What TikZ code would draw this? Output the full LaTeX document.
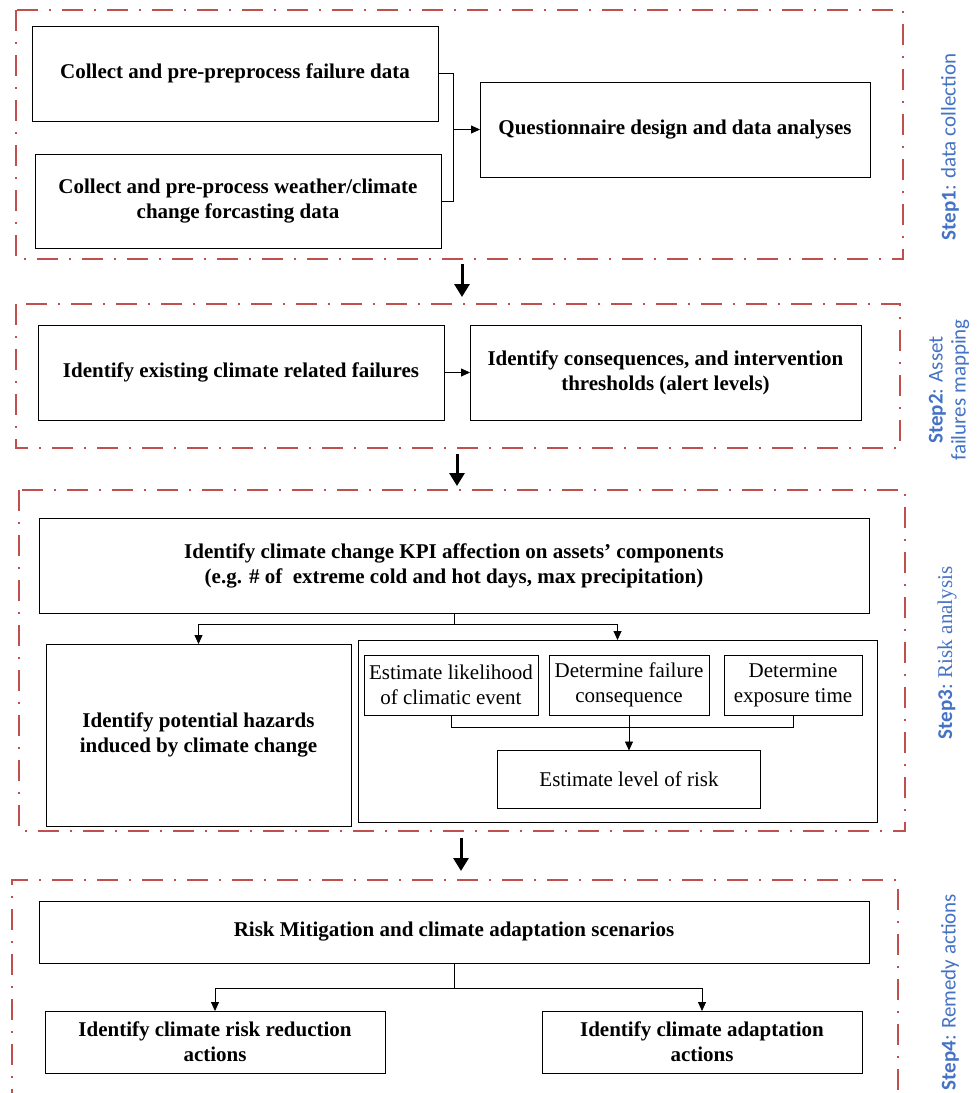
\documentclass[tikz,border=0pt]{standalone}
\usepackage{fontspec}
\setmainfont{Liberation Serif}
\newfontfamily\calibri{Carlito}
\usetikzlibrary{arrows.meta}
\definecolor{stepred}{RGB}{192,80,77}
\definecolor{stepblue}{RGB}{68,114,196}
\newcommand{\stp}[2]{{\bfseries #1}: #2}

\begin{document}
\begin{tikzpicture}[x=1pt,y=-1pt]

%
% Styles
%
\tikzstyle{box} = [rectangle,draw=black,line width=0.9pt,inner sep=0pt,outer sep=0pt,align=center,font=\fontsize{21}{25}\selectfont]
\tikzstyle{boldbox} = [box,font=\fontsize{21}{25}\selectfont\bfseries]
\tikzstyle{frame} = [draw=stepred,line width=2.6pt,dash pattern=on 21pt off 11pt on 2pt off 11pt]
\tikzstyle{link} = [line width=0.8pt]
\tikzstyle{arr} = [link,-{Triangle[length=9pt,width=8pt]}]
\tikzstyle{bigarr} = [line width=3pt,-{Triangle[length=13pt,width=15pt]}]
\tikzstyle{steptext} = [rotate=90,text=stepblue,align=center,font=\calibri\fontsize{21}{23}\selectfont]

\useasboundingbox (0,0) rectangle (978,1093);
\clip (0,0) rectangle (978,1093);

% step frames
\draw[frame] (16,10) rectangle (903,259);
\draw[frame] (16,304) rectangle (900,448);
\draw[frame] (19,490) rectangle (905,831);
\draw[frame] (12,1110) -- (12,880) -- (898,880) -- (898,1110);

% step 1
\node[boldbox,minimum width=406pt,minimum height=95pt] (A) at (235,73.5) {Collect and pre-preprocess failure data};
\node[boldbox,minimum width=406pt,minimum height=94pt] (B) at (238,201) {Collect and pre-process weather/climate\\change forcasting data};
\node[boldbox,minimum width=390pt,minimum height=95pt] (C) at (675,129.5) {Questionnaire design and data analyses};

\coordinate (j1) at (453,129.5);
\draw[link] (A.east) -| (j1);
\draw[link] (B.east) -| (j1);
\draw[arr] (j1) -- (C.west);

% step 2
\node[boldbox,minimum width=406pt,minimum height=95pt] (D) at (241,372.5) {Identify existing climate related failures};
\node[boldbox,minimum width=391pt,minimum height=95pt] (E) at (665.5,372.5) {Identify consequences, and intervention\\thresholds (alert levels)};

\draw[arr] (D) -- (E);

% step 3
\node[boldbox,minimum width=830pt,minimum height=95pt] (F) at (454,565.5) {Identify climate change KPI affection on assets’ components\\(e.g. \# of~ extreme cold and hot days, max precipitation)};
\node[boldbox,minimum width=305pt,minimum height=182pt] (G) at (198.5,735) {Identify potential hazards\\induced by climate change};
\node[box,minimum width=519pt,minimum height=182pt] (H) at (617.5,731) {};
\node[box,minimum width=174pt,minimum height=60pt] (I) at (451,685) {Estimate likelihood\\of climatic event};
\node[box,minimum width=160pt,minimum height=60pt] (J) at (629,685) {Determine failure\\consequence};
\node[box,minimum width=138pt,minimum height=60pt] (K) at (793,685) {Determine\\exposure time};
\node[box,minimum width=263pt,minimum height=58pt] (L) at (629,779.5) {Estimate level of risk};

\coordinate (j3) at (454,624);
\draw[link] (F.south) -- (j3);
\draw[arr] (j3) -| (G.north);
\draw[arr] (j3) -| (H.north);
\coordinate (j4) at (629,727);
\draw[link] (I.south) |- (j4) -| (K.south);
\draw[arr] (J.south) -- (L.north);

% step 4
\node[boldbox,minimum width=830pt,minimum height=62pt] (M) at (454,932) {Risk Mitigation and climate adaptation scenarios};
\node[boldbox,minimum width=340pt,minimum height=62pt] (N) at (215,1042) {Identify climate risk reduction\\actions};
\node[boldbox,minimum width=320pt,minimum height=62pt] (O) at (702,1042) {Identify climate adaptation\\actions};

\coordinate (j5) at (454,988);
\draw[link] (M.south) -- (j5);
\draw[arr] (j5) -| (N.north);
\draw[arr] (j5) -| (O.north);

% arrows between steps
\coordinate (g1) at (462,264);
\coordinate (h1) at (462,297);
\coordinate (g2) at (457,454);
\coordinate (h2) at (457,486);
\coordinate (g3) at (461,838);
\coordinate (h3) at (461,871);
\draw[bigarr] (g1) -- (h1);
\draw[bigarr] (g2) -- (h2);
\draw[bigarr] (g3) -- (h3);

% step labels
\node[steptext] (t1) at (950,147) {\stp{Step1}{data collection}};
\node[steptext] (t2) at (949,390) {\stp{Step2}{Asset}\\failures mapping};
\node[steptext] (t3) at (947,653) {\stp{Step3}{\rmfamily Risk analysis}};
\node[steptext] (t4) at (950,992) {\stp{Step4}{Remedy actions}};

\end{tikzpicture}
\end{document}
